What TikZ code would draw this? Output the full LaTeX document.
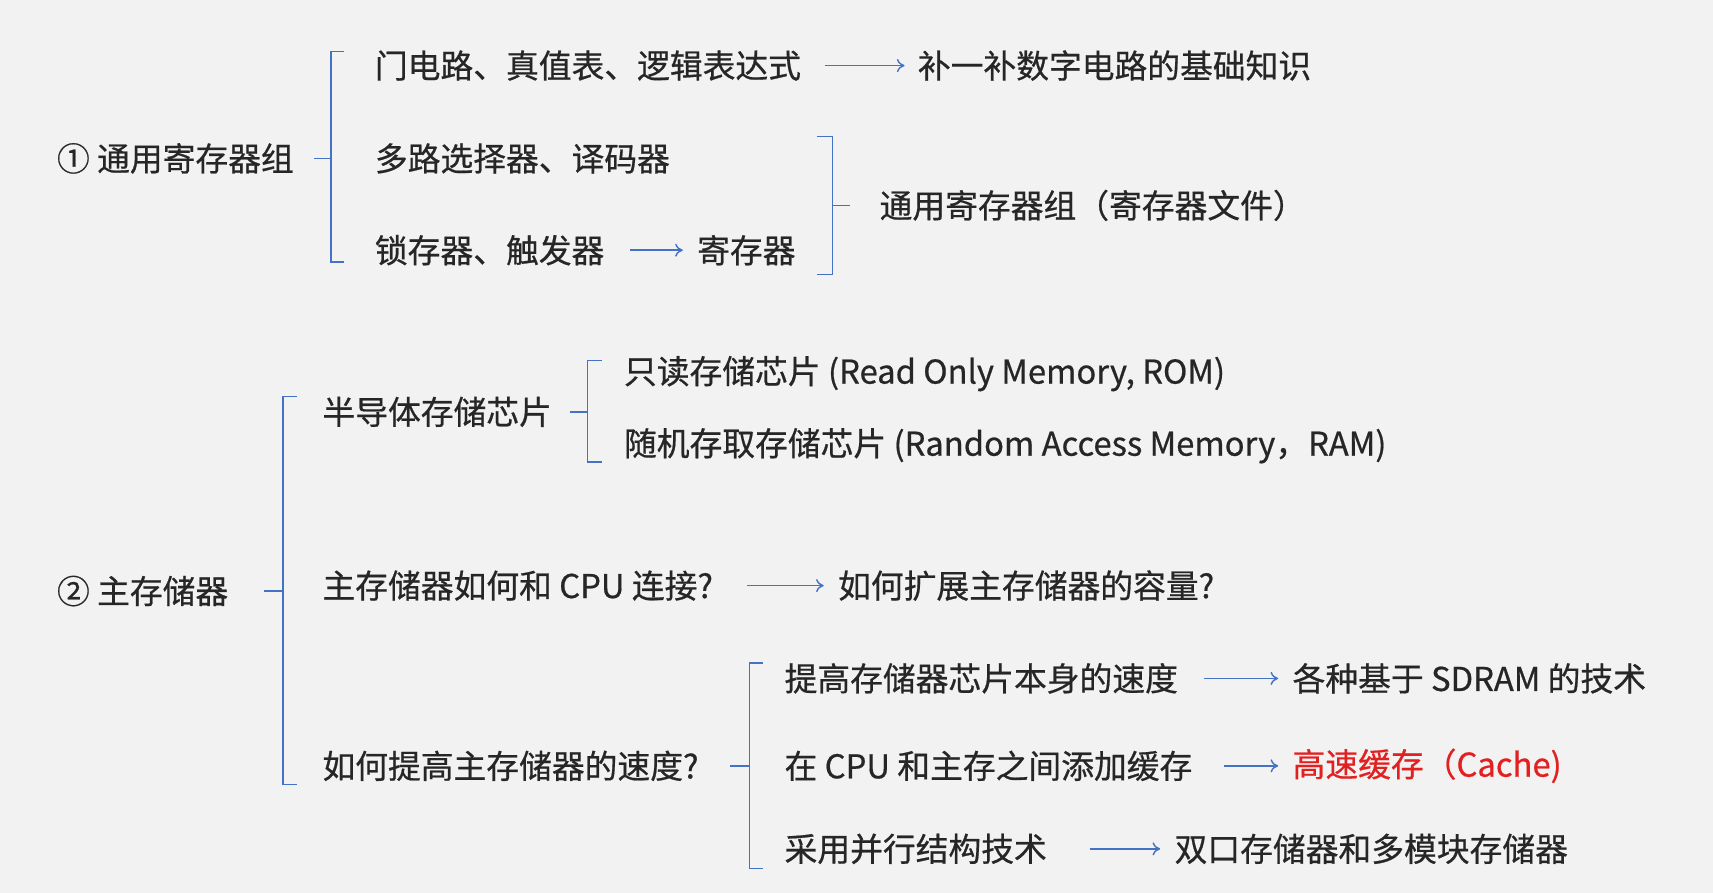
\documentclass[tikz,border=0pt]{standalone}
\usepackage{fontspec}
\setmainfont{Noto Sans CJK SC}[FakeBold=0.6,AutoFakeBold=0.6]
\usetikzlibrary{arrows.meta}
\definecolor{bg}{HTML}{F2F2F2}
\definecolor{tx}{HTML}{262626}
\definecolor{ln}{HTML}{4472C4}
\definecolor{rd}{HTML}{E32020}
\begin{document}
\begin{tikzpicture}[x=1pt,y=-1pt,
  t/.style={anchor=west,inner sep=0pt,text=tx,font=\fontsize{30}{35}\selectfont\bfseries},
  br/.style={draw=ln,line width=1.3pt},
  ar/.style={draw=ln,line width=1.3pt,-{To[length=7pt,width=12pt]}}]
\fill[bg] (0,0) rectangle (1568,817);
\useasboundingbox (0,0) rectangle (1568,817);
% group 1
\node[t] (g1) at (52,145) {① 通用寄存器组};
\draw[br] (315,47) -- (303,47) -- (303,240) -- (315,240) (303,145) -- (287,145);
\node[t] (a1) at (343,60) {门电路、真值表、逻辑表达式};
\node[t] (a2) at (840,60) {补一补数字电路的基础知识};
\draw[ar] (755,60) -- (828,60);
\node[t] (b1) at (343,145) {多路选择器、译码器};
\node[t] (c1) at (343,229) {锁存器、触发器};
\node[t] (c2) at (638,229) {寄存器};
\draw[ar] (577,229) -- (625,229);
\draw[br] (748,125) -- (762,125) -- (762,251) -- (748,251) (762,188) -- (778,188);
\node[t] (d1) at (805,188) {通用寄存器组（寄存器文件）};
% group 2
\node[t] (g2) at (52,541) {② 主存储器};
\draw[br] (272,363) -- (259,363) -- (259,718) -- (272,718) (259,541) -- (242,541);
\node[t] (e1) at (295,377) {半导体存储芯片};
\draw[br] (551,330) -- (538,330) -- (538,423) -- (551,423) (538,377) -- (522,377);
\node[t] (e2) at (571,342) {只读存储芯片 (Read Only Memory, ROM)};
\node[t] (e3) at (571,408) {随机存取存储芯片 (Random Access Memory，RAM)};
\node[t] (f1) at (295,536) {主存储器如何和 CPU 连接?};
\node[t] (f2) at (767,536) {如何扩展主存储器的容量?};
\draw[ar] (684,536) -- (754,536);
\node[t] (h1) at (295,701) {如何提高主存储器的速度?};
\draw[br] (698,607) -- (686,607) -- (686,795) -- (698,795) (686,701) -- (668,701);
\node[t] (i1) at (718,621) {提高存储器芯片本身的速度};
\node[t] (i2) at (1183,621) {各种基于 SDRAM 的技术};
\draw[ar] (1102,621) -- (1170,621);
\node[t] (j1) at (718,701) {在 CPU 和主存之间添加缓存};
\node[t,text=rd] (j2) at (1183,701) {高速缓存（Cache)};
\draw[ar] (1120,701) -- (1170,701);
\node[t] (k1) at (718,777) {采用并行结构技术};
\node[t] (k2) at (1075,777) {双口存储器和多模块存储器};
\draw[ar] (998,777) -- (1062,777);
\end{tikzpicture}
\end{document}
